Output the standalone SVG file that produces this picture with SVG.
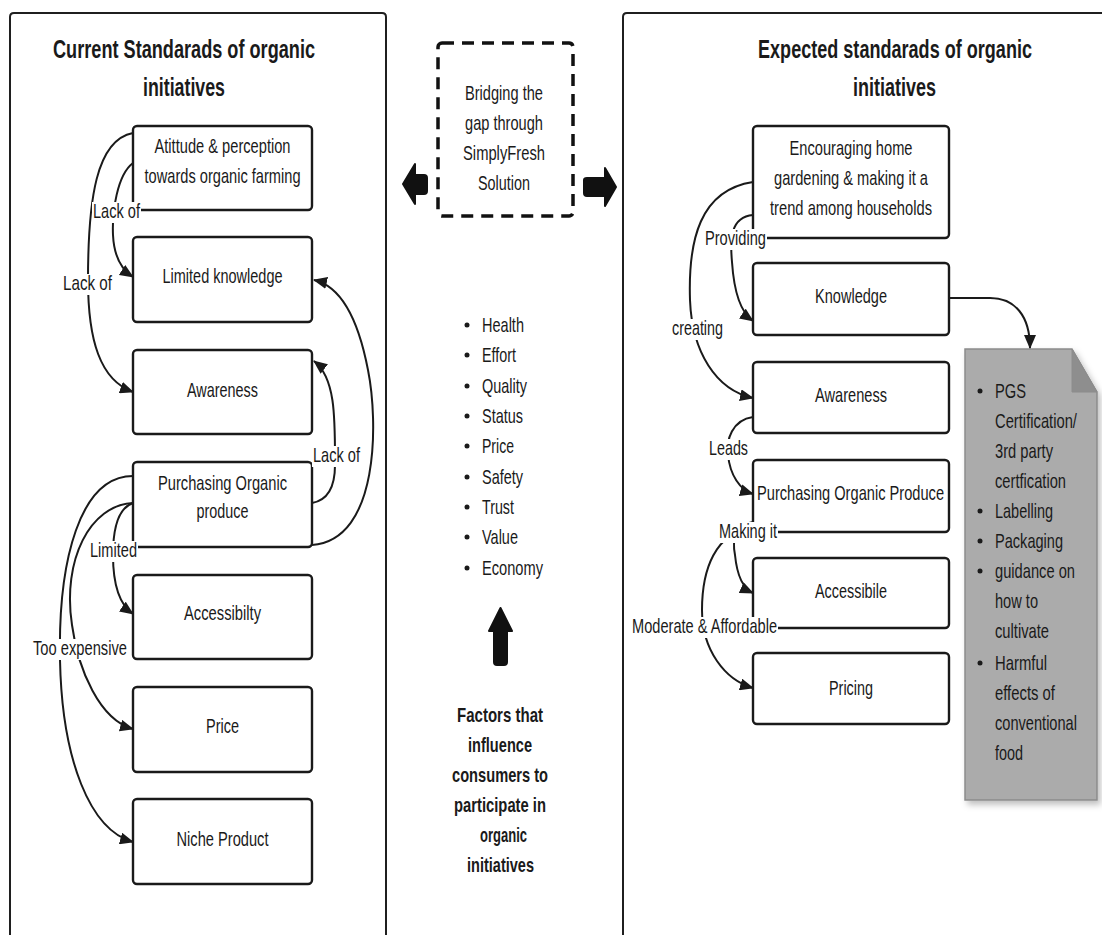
<svg xmlns="http://www.w3.org/2000/svg" width="1102" height="935" viewBox="0 0 1102 935">
  <defs>
    <style>
      text { font-family: "Liberation Sans", Arial, sans-serif; fill: #1a1a1a; }
      .title { font-size: 25px; font-weight: bold; text-anchor: middle; }
      .t { font-size: 20px; text-anchor: middle; }
      .tb { font-size: 20px; font-weight: bold; text-anchor: middle; }
      .li { font-size: 20px; }
      .panel { fill: #fff; stroke: #1f1f1f; stroke-width: 2; }
      .box { fill: #fff; stroke: #1a1a1a; stroke-width: 2.4; }
      .conn { fill: none; stroke: #1a1a1a; stroke-width: 2; marker-end: url(#ah); }
      .lbg { fill: #fff; }
      .blk { fill: #111; stroke: #111; stroke-width: 2; stroke-linejoin: round; }
      .dot { fill: #1a1a1a; }
    </style>
    <marker id="ah" markerWidth="14" markerHeight="12" refX="13" refY="6" orient="auto" markerUnits="userSpaceOnUse">
      <path d="M0,0 L14,6 L0,12 z" fill="#1a1a1a"/>
    </marker>
    <filter id="shadow" x="-10%" y="-10%" width="130%" height="130%">
      <feDropShadow dx="3" dy="4" stdDeviation="3" flood-color="#000" flood-opacity="0.25"/>
    </filter>
  </defs>

  <rect width="1102" height="935" fill="#fff"/>

  <!-- Left panel: current standards (open towards the bottom) -->
  <g id="panel-current">
    <path class="panel" d="M10,935 L10,17 Q10,13 14,13 L382,13 Q386,13 386,17 L386,935"/>
    <text class="title" transform="translate(184 58) scale(0.73 1)" textLength="358.9" lengthAdjust="spacingAndGlyphs">Current Standarads of organic</text>
    <text class="title" transform="translate(184 96) scale(0.73 1)" textLength="112.3" lengthAdjust="spacingAndGlyphs">initiatives</text>
  </g>

  <!-- Right panel: expected standards (open towards right and bottom) -->
  <g id="panel-expected">
    <path class="panel" d="M623,935 L623,17 Q623,13 627,13 L1102,13"/>
    <text class="title" transform="translate(895 58) scale(0.73 1)" textLength="375.3" lengthAdjust="spacingAndGlyphs">Expected standarads of organic</text>
    <text class="title" transform="translate(894.5 96) scale(0.73 1)" textLength="113.7" lengthAdjust="spacingAndGlyphs">initiatives</text>
  </g>

  <!-- Current standards nodes -->
  <g id="n-attitude">
    <rect class="box" x="133" y="126" width="179" height="84" rx="4"/>
    <text class="t" transform="translate(222.5 153) scale(0.73 1)" textLength="186.3" lengthAdjust="spacingAndGlyphs">Atittude &amp; perception</text>
    <text class="t" transform="translate(222.5 183) scale(0.73 1)" textLength="213.7" lengthAdjust="spacingAndGlyphs">towards organic farming</text>
  </g>
  <g id="n-limited-knowledge">
    <rect class="box" x="133" y="237" width="179" height="85" rx="4"/>
    <text class="t" transform="translate(222.5 283) scale(0.73 1)" textLength="164.4" lengthAdjust="spacingAndGlyphs">Limited knowledge</text>
  </g>
  <g id="n-awareness-current">
    <rect class="box" x="133" y="350" width="179" height="84" rx="4"/>
    <text class="t" transform="translate(222.5 397) scale(0.73 1)" textLength="97.3" lengthAdjust="spacingAndGlyphs">Awareness</text>
  </g>
  <g id="n-purchasing-current">
    <rect class="box" x="133" y="462" width="179" height="85" rx="4"/>
    <text class="t" transform="translate(222.5 490) scale(0.73 1)" textLength="176.7" lengthAdjust="spacingAndGlyphs">Purchasing Organic</text>
    <text class="t" transform="translate(222.5 518) scale(0.73 1)" textLength="71.2" lengthAdjust="spacingAndGlyphs">produce</text>
  </g>
  <g id="n-accessibility-current">
    <rect class="box" x="133" y="575" width="179" height="84" rx="4"/>
    <text class="t" transform="translate(222.5 620) scale(0.73 1)" textLength="105.5" lengthAdjust="spacingAndGlyphs">Accessibilty</text>
  </g>
  <g id="n-price">
    <rect class="box" x="133" y="687" width="179" height="85" rx="4"/>
    <text class="t" transform="translate(222.5 733) scale(0.73 1)" textLength="45.2" lengthAdjust="spacingAndGlyphs">Price</text>
  </g>
  <g id="n-niche">
    <rect class="box" x="133" y="799" width="179" height="85" rx="4"/>
    <text class="t" transform="translate(222.5 846) scale(0.73 1)" textLength="126" lengthAdjust="spacingAndGlyphs">Niche Product</text>
  </g>

  <!-- Centre: bridging box and direction arrows -->
  <g id="n-bridge">
    <rect x="438" y="43" width="135" height="173" rx="4" fill="#fff" stroke="#111" stroke-width="3.5" stroke-dasharray="12 8"/>
    <text class="t" transform="translate(504 100) scale(0.73 1)" textLength="106.8" lengthAdjust="spacingAndGlyphs">Bridging the</text>
    <text class="t" transform="translate(504 130) scale(0.73 1)" textLength="106.8" lengthAdjust="spacingAndGlyphs">gap through</text>
    <text class="t" transform="translate(504 160) scale(0.73 1)" textLength="112.3" lengthAdjust="spacingAndGlyphs">SimplyFresh</text>
    <text class="t" transform="translate(504 190) scale(0.73 1)" textLength="71.2" lengthAdjust="spacingAndGlyphs">Solution</text>
  </g>
  <g id="arrow-left">
    <path class="blk" d="M403,184 L415,164 L415,175 L424,175 Q427,175 427,178 L427,191 Q427,194 424,194 L415,194 L415,204 Z"/>
  </g>
  <g id="arrow-right">
    <path class="blk" d="M584,180 Q584,178 587,178 L605,178 L605,168 L616,187 L605,206 L605,196 L587,196 Q584,196 584,193 Z"/>
  </g>

  <!-- Centre: influencing factors -->
  <g id="n-factors">
    <circle class="dot" cx="467" cy="325" r="2.5"/>
    <circle class="dot" cx="467" cy="355" r="2.5"/>
    <circle class="dot" cx="467" cy="386" r="2.5"/>
    <circle class="dot" cx="467" cy="416" r="2.5"/>
    <circle class="dot" cx="467" cy="446" r="2.5"/>
    <circle class="dot" cx="467" cy="477" r="2.5"/>
    <circle class="dot" cx="467" cy="507" r="2.5"/>
    <circle class="dot" cx="467" cy="537" r="2.5"/>
    <circle class="dot" cx="467" cy="568" r="2.5"/>
    <text class="li" transform="translate(482 332) scale(0.73 1)" textLength="57.5" lengthAdjust="spacingAndGlyphs">Health</text>
    <text class="li" transform="translate(482 362) scale(0.73 1)" textLength="46.6" lengthAdjust="spacingAndGlyphs">Effort</text>
    <text class="li" transform="translate(482 393) scale(0.73 1)" textLength="61.6" lengthAdjust="spacingAndGlyphs">Quality</text>
    <text class="li" transform="translate(482 423) scale(0.73 1)" textLength="56.2" lengthAdjust="spacingAndGlyphs">Status</text>
    <text class="li" transform="translate(482 453) scale(0.73 1)" textLength="43.8" lengthAdjust="spacingAndGlyphs">Price</text>
    <text class="li" transform="translate(482 484) scale(0.73 1)" textLength="56.2" lengthAdjust="spacingAndGlyphs">Safety</text>
    <text class="li" transform="translate(482 514) scale(0.73 1)" textLength="43.8" lengthAdjust="spacingAndGlyphs">Trust</text>
    <text class="li" transform="translate(482 544) scale(0.73 1)" textLength="49.3" lengthAdjust="spacingAndGlyphs">Value</text>
    <text class="li" transform="translate(482 575) scale(0.73 1)" textLength="83.6" lengthAdjust="spacingAndGlyphs">Economy</text>
  </g>
  <g id="arrow-up">
    <path class="blk" d="M500.5,608 L512,631 L507,631 L507,662 Q507,665 504,665 L497,665 Q494,665 494,662 L494,631 L489,631 Z"/>
  </g>
  <g id="n-factors-caption">
    <text class="tb" transform="translate(500 722) scale(0.73 1)" textLength="117.8" lengthAdjust="spacingAndGlyphs">Factors that</text>
    <text class="tb" transform="translate(500 752) scale(0.73 1)" textLength="87.7" lengthAdjust="spacingAndGlyphs">influence</text>
    <text class="tb" transform="translate(500 782) scale(0.73 1)" textLength="131.5" lengthAdjust="spacingAndGlyphs">consumers to</text>
    <text class="tb" transform="translate(500 812) scale(0.73 1)" textLength="126" lengthAdjust="spacingAndGlyphs">participate in</text>
    <text class="tb" transform="translate(503.5 842) scale(0.73 1)" textLength="64.4" lengthAdjust="spacingAndGlyphs">organic</text>
    <text class="tb" transform="translate(500.5 872) scale(0.73 1)" textLength="91.8" lengthAdjust="spacingAndGlyphs">initiatives</text>
  </g>

  <!-- Expected standards nodes -->
  <g id="n-encouraging">
    <rect class="box" x="753" y="126" width="196" height="112" rx="4"/>
    <text class="t" transform="translate(851 155) scale(0.73 1)" textLength="168.5" lengthAdjust="spacingAndGlyphs">Encouraging home</text>
    <text class="t" transform="translate(851 185) scale(0.73 1)" textLength="211" lengthAdjust="spacingAndGlyphs">gardening &amp; making it a</text>
    <text class="t" transform="translate(851 215) scale(0.73 1)" textLength="221.9" lengthAdjust="spacingAndGlyphs">trend among households</text>
  </g>
  <g id="n-knowledge">
    <rect class="box" x="753" y="263" width="196" height="72" rx="4"/>
    <text class="t" transform="translate(851 303) scale(0.73 1)" textLength="98.6" lengthAdjust="spacingAndGlyphs">Knowledge</text>
  </g>
  <g id="n-awareness-expected">
    <rect class="box" x="753" y="362" width="196" height="71" rx="4"/>
    <text class="t" transform="translate(851 402) scale(0.73 1)" textLength="98.6" lengthAdjust="spacingAndGlyphs">Awareness</text>
  </g>
  <g id="n-purchasing-expected">
    <rect class="box" x="753" y="460" width="196" height="72" rx="4"/>
    <text class="t" transform="translate(850.5 500) scale(0.73 1)" textLength="256.2" lengthAdjust="spacingAndGlyphs">Purchasing Organic Produce</text>
  </g>
  <g id="n-accessible">
    <rect class="box" x="753" y="558" width="196" height="70" rx="4"/>
    <text class="t" transform="translate(851 598) scale(0.73 1)" textLength="98.6" lengthAdjust="spacingAndGlyphs">Accessibile</text>
  </g>
  <g id="n-pricing">
    <rect class="box" x="753" y="653" width="196" height="71" rx="4"/>
    <text class="t" transform="translate(851 695) scale(0.73 1)" textLength="60.3" lengthAdjust="spacingAndGlyphs">Pricing</text>
  </g>

  <!-- Note listing knowledge channels -->
  <g id="n-note">
    <path d="M965,349 L1072,349 L1097,392 L1097,800 L965,800 Z" fill="#ababab" stroke="#8c8c8c" stroke-width="1.5" filter="url(#shadow)"/>
    <path d="M1072,349 L1072,392 L1097,392 Z" fill="#8e8e8e" stroke="#8c8c8c" stroke-width="1"/>
    <circle class="dot" cx="980" cy="391" r="2.5"/>
    <circle class="dot" cx="980" cy="511" r="2.5"/>
    <circle class="dot" cx="980" cy="541" r="2.5"/>
    <circle class="dot" cx="980" cy="571" r="2.5"/>
    <circle class="dot" cx="980" cy="663" r="2.5"/>
    <text class="li" transform="translate(995 398) scale(0.73 1)" textLength="42.5" lengthAdjust="spacingAndGlyphs">PGS</text>
    <text class="li" transform="translate(995 428) scale(0.73 1)" textLength="112.3" lengthAdjust="spacingAndGlyphs">Certification/</text>
    <text class="li" transform="translate(995 458) scale(0.73 1)" textLength="79.5" lengthAdjust="spacingAndGlyphs">3rd party</text>
    <text class="li" transform="translate(995 488) scale(0.73 1)" textLength="97.3" lengthAdjust="spacingAndGlyphs">certfication</text>
    <text class="li" transform="translate(995 518) scale(0.73 1)" textLength="79.5" lengthAdjust="spacingAndGlyphs">Labelling</text>
    <text class="li" transform="translate(995 548) scale(0.73 1)" textLength="93.2" lengthAdjust="spacingAndGlyphs">Packaging</text>
    <text class="li" transform="translate(995 578) scale(0.73 1)" textLength="109.6" lengthAdjust="spacingAndGlyphs">guidance on</text>
    <text class="li" transform="translate(995 608) scale(0.73 1)" textLength="58.9" lengthAdjust="spacingAndGlyphs">how to</text>
    <text class="li" transform="translate(995 638) scale(0.73 1)" textLength="74" lengthAdjust="spacingAndGlyphs">cultivate</text>
    <text class="li" transform="translate(995 670) scale(0.73 1)" textLength="71.2" lengthAdjust="spacingAndGlyphs">Harmful</text>
    <text class="li" transform="translate(995 700) scale(0.73 1)" textLength="82.2" lengthAdjust="spacingAndGlyphs">effects of</text>
    <text class="li" transform="translate(995 730) scale(0.73 1)" textLength="112.3" lengthAdjust="spacingAndGlyphs">conventional</text>
    <text class="li" transform="translate(995 760) scale(0.73 1)" textLength="38.4" lengthAdjust="spacingAndGlyphs">food</text>
  </g>

  <!-- Connectors with their labels -->
  <g id="connectors">
    <!-- current standards -->
    <path class="conn" d="M133,163 C117,175 112,212 113,235 C114,256 122,270 133,277"/>
    <path class="conn" d="M133,133 C96,140 88,200 88,280 C88,340 100,380 133,392"/>
    <path class="conn" d="M312,503 C329,500 335,485 335,465 C335,420 336,378 314,361"/>
    <path class="conn" d="M312,545 C380,540 378,420 368,370 C358,318 340,286 314,280"/>
    <path class="conn" d="M133,503 C118,508 113,530 113,555 C113,585 120,605 133,614"/>
    <path class="conn" d="M133,503 C90,505 62,560 72,625 C78,670 100,720 133,729"/>
    <path class="conn" d="M133,476 C80,476 58,560 60,660 C62,760 90,830 133,842"/>

    <!-- expected standards -->
    <path class="conn" d="M753,215 C730,217 730,240 732,262 C734,292 740,312 753,321"/>
    <path class="conn" d="M753,182 C700,190 688,240 690,300 C692,352 716,390 753,398"/>
    <path class="conn" d="M753,417 C732,420 726,440 728,455 C730,475 740,490 753,494"/>
    <path class="conn" d="M753,522 C735,525 732,540 735,555 C737,575 742,588 753,593"/>
    <path class="conn" d="M753,528 C715,532 702,570 702,610 C702,650 725,680 753,688"/>
    <path class="conn" d="M949,298 L990,298 C1015,298 1030,316 1030,348"/>

    <!-- labels -->
    <rect class="lbg" x="92" y="202" width="49" height="21"/>
    <text class="t" transform="translate(116.5 218) scale(0.73 1)" textLength="64.4" lengthAdjust="spacingAndGlyphs">Lack of</text>
    <rect class="lbg" x="62" y="274" width="51" height="21"/>
    <text class="t" transform="translate(87.5 290) scale(0.73 1)" textLength="67.1" lengthAdjust="spacingAndGlyphs">Lack of</text>
    <rect class="lbg" x="312" y="446" width="49" height="21"/>
    <text class="t" transform="translate(336.5 462) scale(0.73 1)" textLength="64.4" lengthAdjust="spacingAndGlyphs">Lack of</text>
    <rect class="lbg" x="89" y="541" width="49" height="21"/>
    <text class="t" transform="translate(113.5 557) scale(0.73 1)" textLength="64.4" lengthAdjust="spacingAndGlyphs">Limited</text>
    <rect class="lbg" x="32" y="639" width="96" height="21"/>
    <text class="t" transform="translate(80 655) scale(0.73 1)" textLength="128.8" lengthAdjust="spacingAndGlyphs">Too expensive</text>

    <rect class="lbg" x="704" y="229" width="63" height="21"/>
    <text class="t" transform="translate(735.5 245) scale(0.73 1)" textLength="83.6" lengthAdjust="spacingAndGlyphs">Providing</text>
    <rect class="lbg" x="671" y="319" width="53" height="21"/>
    <text class="t" transform="translate(697.5 335) scale(0.73 1)" textLength="69.9" lengthAdjust="spacingAndGlyphs">creating</text>
    <rect class="lbg" x="708" y="439" width="41" height="21"/>
    <text class="t" transform="translate(728.5 455) scale(0.73 1)" textLength="53.4" lengthAdjust="spacingAndGlyphs">Leads</text>
    <rect class="lbg" x="718" y="522" width="60" height="21"/>
    <text class="t" transform="translate(748 538) scale(0.73 1)" textLength="79.5" lengthAdjust="spacingAndGlyphs">Making it</text>
    <rect class="lbg" x="631" y="617" width="147" height="21"/>
    <text class="t" transform="translate(704.5 633) scale(0.73 1)" textLength="198.6" lengthAdjust="spacingAndGlyphs">Moderate &amp; Affordable</text>
  </g>
</svg>
